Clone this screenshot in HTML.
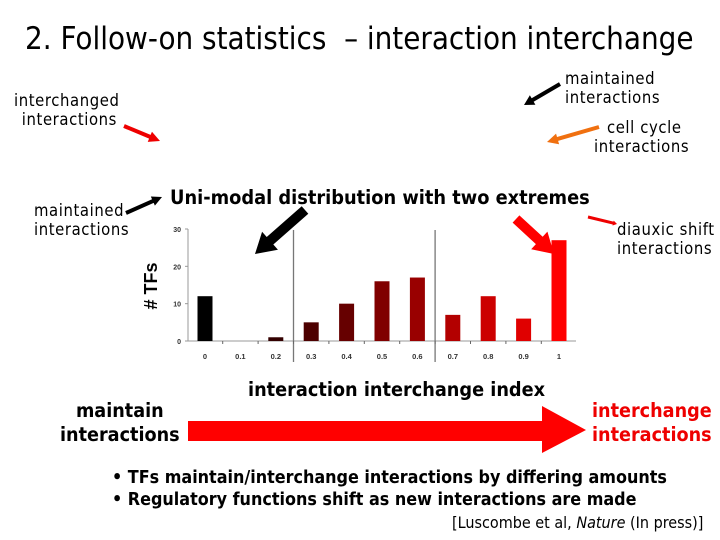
<!DOCTYPE html>
<html><head><meta charset="utf-8">
<style>
body{margin:0;background:#fff}
#slide{position:relative;width:720px;height:540px;overflow:hidden;background:#fff;font-family:"DejaVu Sans","Liberation Sans",sans-serif}
.t{position:absolute;white-space:nowrap;line-height:19px}
.lbl{font-size:16.5px;color:#000;font-family:'DejaVu Sans Condensed','DejaVu Sans',sans-serif;letter-spacing:0.6px}
.bold{font-weight:bold;font-family:"DejaVu Sans Condensed","DejaVu Sans",sans-serif}
</style></head>
<body>
<div id="slide">
<div class="t" style="left:25px;top:21px;font-size:31px;line-height:36px;font-family:'DejaVu Sans Condensed','DejaVu Sans',sans-serif">2. Follow-on statistics&nbsp; – interaction interchange</div>
<div class="t lbl" style="left:14px;top:91px;text-align:center">interchanged<br>&nbsp;interactions</div>
<div class="t lbl" style="left:565px;top:69px">maintained<br>interactions</div>
<div class="t lbl" style="left:594px;top:118px;text-align:center">&nbsp;cell cycle<br>interactions</div>
<div class="t lbl" style="left:34px;top:201px">maintained<br>interactions</div>
<div class="t lbl" style="left:617px;top:220px">diauxic shift<br>interactions</div>
<div class="t bold" style="left:170px;top:188px;font-size:19.8px">Uni-modal distribution with two extremes</div>
<div class="t bold" style="left:248px;top:380px;font-size:19.7px">interaction interchange index</div>
<div class="t bold" style="left:60px;top:399px;font-size:19.6px;line-height:24px;text-align:center">maintain<br>interactions</div>
<div class="t bold" style="left:592px;top:399px;font-size:19.6px;line-height:24px;color:#e00">interchange<br>interactions</div>
<div class="t" style="left:112px;top:467px;font-size:17.8px;line-height:22px;font-weight:bold;font-family:'DejaVu Sans Condensed',sans-serif">• TFs maintain/interchange interactions by differing amounts<br>• Regulatory functions shift as new interactions are made</div>
<div class="t" style="left:452px;top:513px;font-size:16px;font-family:'DejaVu Sans Condensed',sans-serif">[Luscombe et al, <i>Nature</i> (In press)]</div>

<svg id="chart" width="720" height="540" style="position:absolute;left:0;top:0"></svg>
</div>
<script>
const categories=["0","0.1","0.2","0.3","0.4","0.5","0.6","0.7","0.8","0.9","1"];
const counts=[12,0,1,5,10,16,17,7,12,6,27];
const yTicks=[0,10,20,30];
const barColors=["#000000","#1a0000","#330000","#4d0000","#660000","#800000","#990000","#b30000","#cc0000","#e00000","#ff0000"];

const NS="http://www.w3.org/2000/svg";
const svg=document.getElementById('chart');
const x0=205,dx=35.4,y0=341,yScale=112/30;
const xPos=i=>x0+i*dx;
const yPos=v=>y0-v*yScale;
function mk(tag,attrs,parent){const e=document.createElementNS(NS,tag);for(const k in attrs)e.setAttribute(k,attrs[k]);(parent||svg).appendChild(e);return e;}

function arrow(x1,y1,x2,y2,w,hw,hl,color,name){
  const ang=Math.atan2(y2-y1,x2-x1),len=Math.hypot(x2-x1,y2-y1);
  const g=mk('g',{transform:`translate(${x1},${y1}) rotate(${ang*180/Math.PI})`,fill:color});
  
  
  mk('polygon',{points:`0,${-w/2} ${len-hl},${-w/2} ${len-hl},${-hw/2} ${len},0 ${len-hl},${hw/2} ${len-hl},${w/2} 0,${w/2}`},g);
}
arrow(560,84,524,105,4,11,10,'#000','arrow-maintained-top');
arrow(599,127,547,142,4,11,11,'#f07010','arrow-cell-cycle');
arrow(124,126,160,141,4,11,11,'#e00','arrow-interchanged');
arrow(126,213,162,197,4,10,10,'#000','arrow-maintained-left');
arrow(305,210,255,254,10,24,20,'#000','arrow-maintained-bar');
arrow(516,219,554,254,10,24,20,'#f00','arrow-interchange-bar');
arrow(588,217,617,224,3,5,4,'#e00','arrow-diauxic-shift');
const big=mk('polygon',{points:"188,421 542,421 542,406 586,430 542,453 542,441 188,441",fill:'#f00'});



const ax=mk('line',{x1:188,y1:yPos(30),x2:188,y2:y0,stroke:'#999','stroke-width':1});


const xa=mk('line',{x1:188,y1:y0,x2:576,y2:y0,stroke:'#999','stroke-width':1});


yTicks.forEach(v=>{
  const t=mk('line',{x1:185,y1:yPos(v),x2:188,y2:yPos(v),stroke:'#999'});
  
  
  const l=mk('text',{x:181,y:yPos(v)+3,'text-anchor':'end','font-size':7,'font-family':'Liberation Sans, sans-serif','font-weight':'bold',fill:'#333'});
  l.textContent=v;
  
  
});
[2.5,6.5].forEach(p=>{
  const s=mk('line',{x1:xPos(p),y1:230,x2:xPos(p),y2:362,stroke:'#777','stroke-width':1.3});
  
  
});
categories.forEach((c,i)=>{
  if(i<categories.length-1){
    const t=mk('line',{x1:xPos(i)+dx/2,y1:y0,x2:xPos(i)+dx/2,y2:y0+3,stroke:'#666'});
    
    
  }
  const h=counts[i]*yScale;
  if(counts[i]>0){
    const b=mk('rect',{x:xPos(i)-7.5,y:yPos(counts[i]),width:15,height:h,fill:barColors[i]});
    
    
  }
  const l=mk('text',{x:xPos(i),y:359,'text-anchor':'middle','font-size':7.5,'font-family':'Liberation Sans, sans-serif','font-weight':'bold',fill:'#333'});
  l.textContent=c;
  
  
});
const yt=mk('text',{x:0,y:0,transform:'translate(157,286) rotate(-90)','text-anchor':'middle','font-size':18,'font-weight':'bold','font-family':'Liberation Sans, sans-serif'});
yt.textContent='# TFs';


</script>
</body></html>
